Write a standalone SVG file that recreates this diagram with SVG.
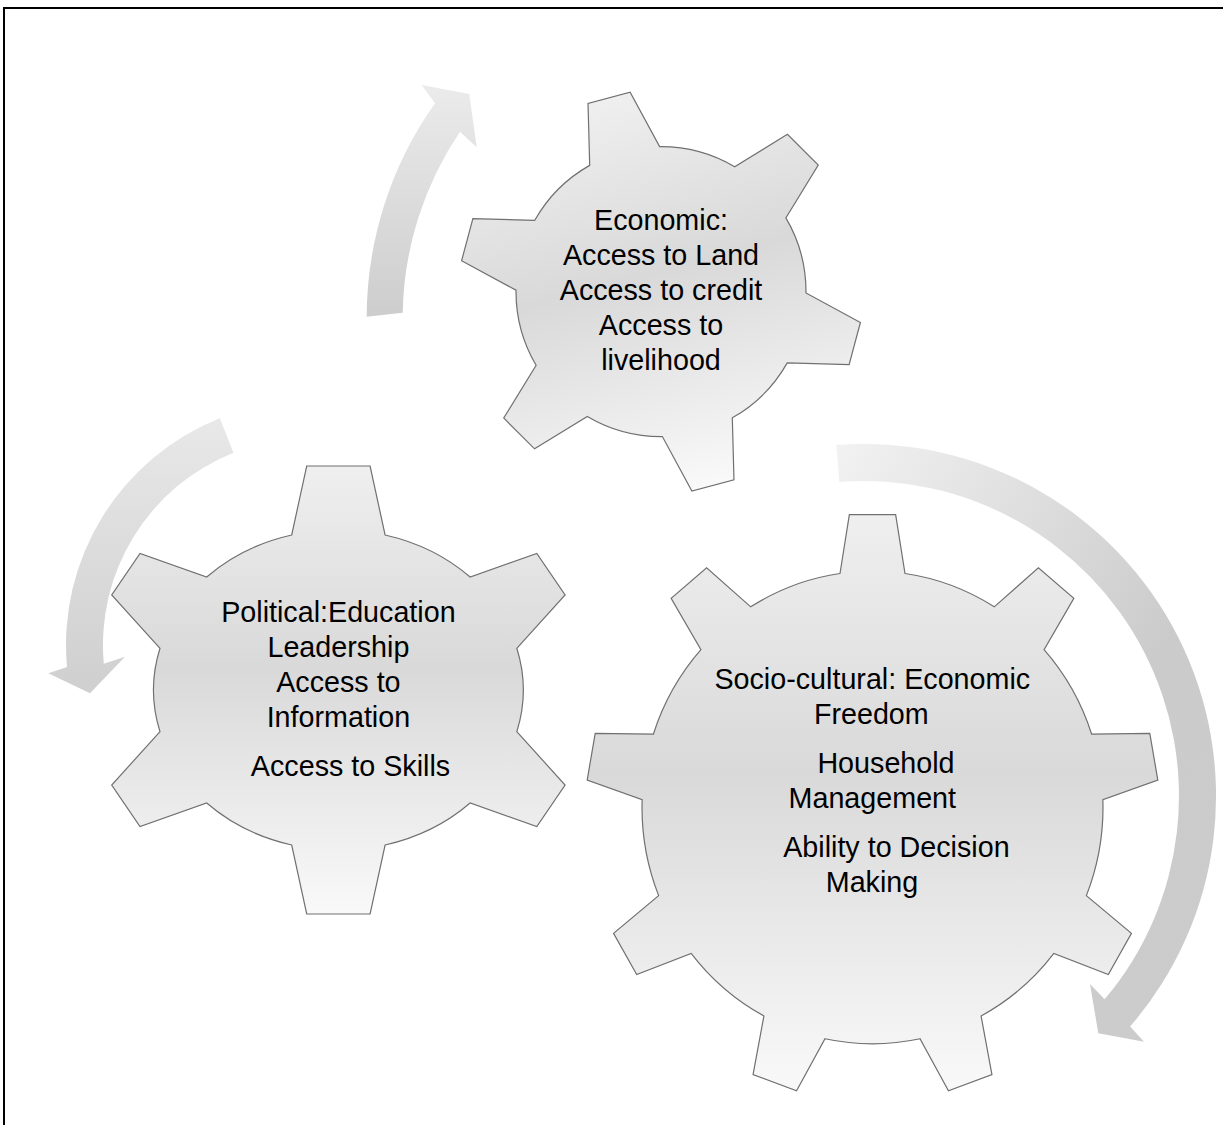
<svg xmlns="http://www.w3.org/2000/svg" width="1223" height="1125" viewBox="0 0 1223 1125">
<defs>
<style>
.gear{stroke:#707070;stroke-width:1.2;vector-effect:non-scaling-stroke;stroke-linejoin:miter}
.lbl{font-family:"Liberation Sans",Arial,sans-serif;font-size:28.7px;fill:#000;text-anchor:middle}
</style>
<linearGradient id="gearFill" x1="0" y1="0" x2="0" y2="1">
<stop offset="0" stop-color="#efefef"/>
<stop offset="0.45" stop-color="#d9d9d9"/>
<stop offset="1" stop-color="#f9f9f9"/>
</linearGradient>
<linearGradient id="arr1" x1="0" y1="1" x2="0" y2="0">
<stop offset="0" stop-color="#cdcdcd"/>
<stop offset="1" stop-color="#ebebeb"/>
</linearGradient>
<linearGradient id="arr2" x1="0" y1="0" x2="0" y2="1">
<stop offset="0" stop-color="#e8e8e8"/>
<stop offset="1" stop-color="#cfcfcf"/>
</linearGradient>
<linearGradient id="arr3" x1="0" y1="0" x2="1" y2="1">
<stop offset="0" stop-color="#f2f2f2"/>
<stop offset="0.6" stop-color="#cbcbcb"/>
<stop offset="1" stop-color="#cccccc"/>
</linearGradient>
</defs>
<rect x="0" y="0" width="1223" height="1125" fill="#ffffff"/>
<path d="M4,1125 V8 H1223" fill="none" stroke="#000" stroke-width="2"/>
<g id="connectors">
<path id="arrow-top" fill="url(#arr1)" d="M366.7,316.7 A370,370 0 0 1 435,103.3 L421.7,85 L469.3,94 L476.7,147.3 L460,131.7 A334,334 0 0 0 402.7,312.7 Z"/>
<path id="arrow-left" fill="url(#arr2)" d="M219.8,418.3 A244,244 0 0 0 67,667.1 L48.3,673.3 L90,693.3 L125,656.7 L103.8,663.8 A207,207 0 0 1 233.5,452.7 Z"/>
<path id="arrow-right" fill="url(#arr3)" d="M836.4,445.1 A352,352 0 0 1 1130.1,1026.5 L1144,1041.7 L1098.3,1033.3 L1090,984 L1104.6,999.3 A315,315 0 0 0 839.3,482 Z"/>
</g>
<g id="gear-economic">
<path class="gear" fill="url(#gearFill)" transform="translate(661,291.6) rotate(-15)" d="M-36.2,-140.4 L-21.8,-200.6 L21.8,-200.6 L36.2,-140.4 A145,145 0 0 1 103.49,-101.55 L162.82,-119.18 L184.62,-81.42 L139.69,-38.85 A145,145 0 0 1 139.69,38.85 L184.62,81.42 L162.82,119.18 L103.49,101.55 A145,145 0 0 1 36.2,140.4 L21.8,200.6 L-21.8,200.6 L-36.2,140.4 A145,145 0 0 1 -103.49,101.55 L-162.82,119.18 L-184.62,81.42 L-139.69,38.85 A145,145 0 0 1 -139.69,-38.85 L-184.62,-81.42 L-162.82,-119.18 L-103.49,-101.55 A145,145 0 0 1 -36.2,-140.4 Z"/>
<text class="lbl" x="661" y="230">Economic:</text>
<text class="lbl" x="661" y="265">Access to Land</text>
<text class="lbl" x="661" y="300">Access to credit</text>
<text class="lbl" x="661" y="335">Access to</text>
<text class="lbl" x="661" y="370">livelihood</text>
</g>
<g id="gear-political">
<path class="gear" fill="url(#gearFill)" d="M291.7,535 L306.7,466 L370.1,466 L385.1,535 A187,160 0 0 1 470.1,577 L536.8,553.5 L565.1,595 L516.8,648.3 A187,160 0 0 1 516.8,731.7 L565.1,785 L536.8,826.5 L470.1,803 A187,160 0 0 1 385.1,845 L370.1,914 L306.7,914 L291.7,845 A187,160 0 0 1 206.7,803 L140,826.5 L111.7,785 L160,731.7 A187,160 0 0 1 160,648.3 L111.7,595 L140,553.5 L206.7,577 A187,160 0 0 1 291.7,535 Z"/>
<text class="lbl" x="338.4" y="622">Political:Education</text>
<text class="lbl" x="338.4" y="657">Leadership</text>
<text class="lbl" x="338.4" y="692">Access to</text>
<text class="lbl" x="338.4" y="727">Information</text>
<text class="lbl" x="350.5" y="776">Access to Skills</text>
</g>
<g id="gear-socio">
<path class="gear" fill="url(#gearFill)" transform="translate(872.5,807.5) scale(0.985,1.01)" d="M-33,-231.66 L-23.5,-290 L23.5,-290 L33,-231.66 A234,234 0 0 1 123.63,-198.66 L168.41,-237.25 L204.41,-207.03 L174.19,-156.24 A234,234 0 0 1 222.41,-72.72 L281.51,-73.48 L289.67,-27.2 L233.87,-7.72 A234,234 0 0 1 217.12,87.25 L262.89,124.65 L239.39,165.35 L184.12,144.41 A234,234 0 0 1 110.24,206.4 L121.26,264.47 L77.1,280.55 L48.22,228.98 A234,234 0 0 1 -48.22,228.98 L-77.1,280.55 L-121.26,264.47 L-110.24,206.4 A234,234 0 0 1 -184.12,144.41 L-239.39,165.35 L-262.89,124.65 L-217.12,87.25 A234,234 0 0 1 -233.87,-7.72 L-289.67,-27.2 L-281.51,-73.48 L-222.41,-72.72 A234,234 0 0 1 -174.19,-156.24 L-204.41,-207.03 L-168.41,-237.25 L-123.63,-198.66 A234,234 0 0 1 -33,-231.66 Z"/>
<text class="lbl" x="872.3" y="689">Socio-cultural: Economic</text>
<text class="lbl" x="871.3" y="724">Freedom</text>
<text class="lbl" x="886" y="773">Household</text>
<text class="lbl" x="872.3" y="808">Management</text>
<text class="lbl" x="896.4" y="857">Ability to Decision</text>
<text class="lbl" x="872" y="892">Making</text>
</g>
</svg>
